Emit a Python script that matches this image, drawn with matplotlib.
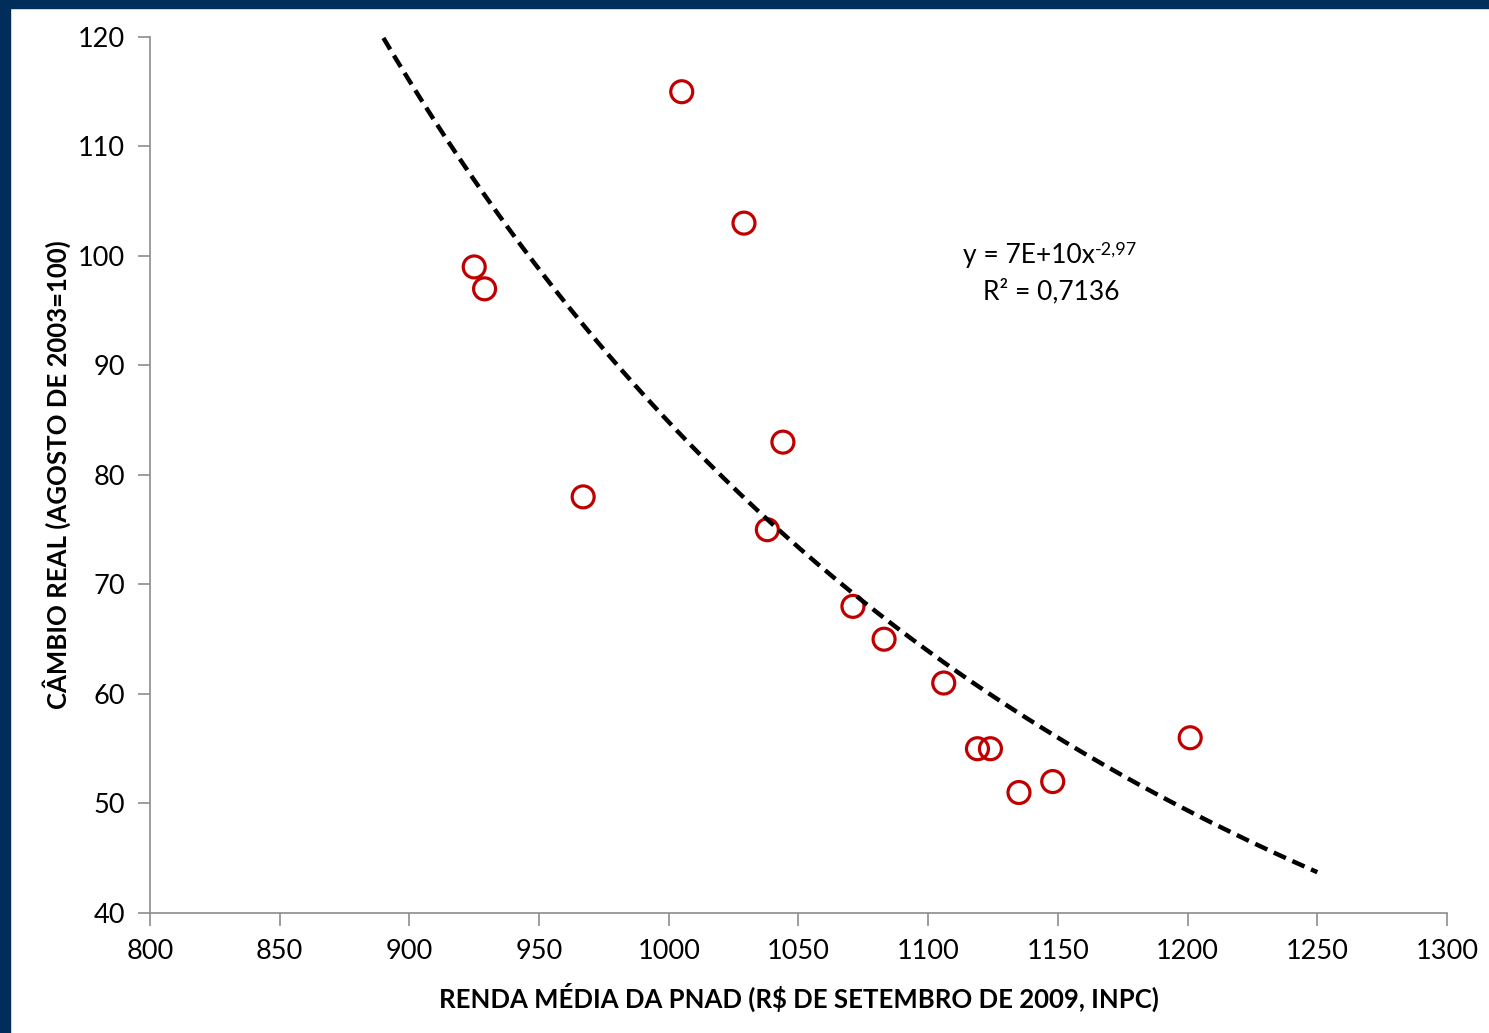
import numpy as np
import matplotlib
matplotlib.use("Agg")
import matplotlib.pyplot as plt
from matplotlib.patches import Rectangle

# =========================
# DATA
# =========================
renda = [925, 929, 967, 1005, 1029, 1038, 1044, 1071, 1083, 1106, 1119, 1124, 1135, 1148, 1201]
cambio = [99, 97, 78, 115, 103, 75, 83, 68, 65, 61, 55, 55, 51, 52, 56]

trend_range = [890, 1250]
x_ticks = [800, 850, 900, 950, 1000, 1050, 1100, 1150, 1200, 1250, 1300]
y_ticks = [40, 50, 60, 70, 80, 90, 100, 110, 120]

eq_text = "y = 7E+10x"
eq_exp = "-2,97"
r2_text = "R² = 0,7136"

# =========================
# STYLE
# =========================
plt.rcParams["font.family"] = ["Lato", "DejaVu Sans"]

fig = plt.figure(figsize=(14.89, 10.33), dpi=100)
fig.patch.set_facecolor("white")
navy = "#002D5A"
fig.patches.append(Rectangle((0, 0), 10 / 1489, 1, transform=fig.transFigure, color=navy, zorder=0))
fig.patches.append(Rectangle((0, 1 - 8 / 1033), 1, 8 / 1033, transform=fig.transFigure, color=navy, zorder=0))

ax = fig.add_axes([0.1007, 0.1162, 0.8711, 0.848])

ax.scatter(renda, cambio, s=250, facecolors="none", edgecolors="#C00000", linewidths=2.3, zorder=2)

# power trend line (log-log fit, like Excel) drawn over the markers
b, log_a = np.polyfit(np.log(renda), np.log(cambio), 1)
xs = np.linspace(trend_range[0], trend_range[1], 300)
ys = np.exp(log_a) * xs ** b
ax.plot(xs, ys, color="black", lw=3.2, ls=(0, (3, 1.6)), zorder=3)

ax.set_xlim(800, 1300)
ax.set_ylim(40, 120)
ax.set_xticks(x_ticks)
ax.set_yticks(y_ticks)

for side in ["top", "right"]:
    ax.spines[side].set_visible(False)
for side in ["left", "bottom"]:
    ax.spines[side].set_color("#8C8C8C")
    ax.spines[side].set_linewidth(1.2)
ax.tick_params(axis="both", direction="out", length=9, width=1.2, color="#8C8C8C",
               labelsize=19.5, labelcolor="black")
ax.tick_params(axis="x", pad=10)
ax.tick_params(axis="y", pad=9)

ax.set_xlabel("RENDA MÉDIA DA PNAD (R$ DE SETEMBRO DE 2009, INPC)", fontsize=18.5,
              fontweight="bold", labelpad=13)
ax.set_ylabel("CÂMBIO REAL (AGOSTO DE 2003=100)", fontsize=18.5, fontweight="bold", labelpad=5)

eq = ax.text(0.7286, 0.751, eq_text, transform=ax.transAxes, ha="right", va="center", fontsize=19)
ax.annotate(eq_exp, xy=(1.0, 1.02), xycoords=eq, ha="left", va="top", fontsize=13)
ax.text(0.695, 0.710, r2_text, transform=ax.transAxes, ha="center", va="center", fontsize=19)

fig.savefig("out.png", dpi=100)
